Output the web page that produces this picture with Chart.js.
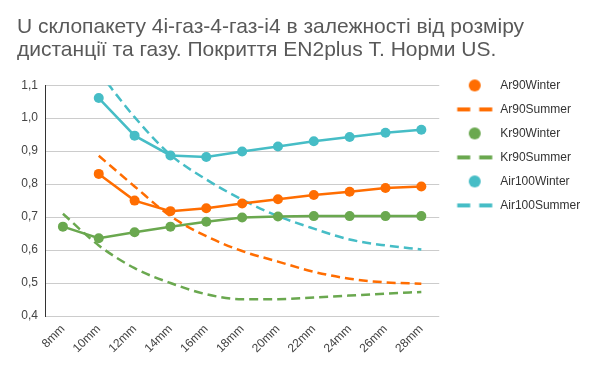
<!DOCTYPE html>
<html>
<head>
<meta charset="utf-8">
<script src="https://cdn.jsdelivr.net/npm/chart.js@4"></script>
<style>
  body { margin: 0; background: #fff; }
  #wrap { width: 600px; height: 371px; }
</style>
</head>
<body>
<div id="wrap"><canvas id="chart"></canvas></div>
<script>
// дані з графіка
var distances = ["8mm", "10mm", "12mm", "14mm", "16mm", "18mm", "20mm", "22mm", "24mm", "26mm", "28mm"];
var ar90Winter = [null, 0.831, 0.750, 0.718, 0.727, 0.741, 0.754, 0.767, 0.777, 0.788, 0.793];
var ar90Summer = [null, 0.886, 0.793, 0.703, 0.642, 0.597, 0.565, 0.534, 0.513, 0.502, 0.498];
var kr90Winter = [0.671, 0.636, 0.654, 0.671, 0.686, 0.699, 0.702, 0.703, 0.703, 0.703, 0.703];
var kr90Summer = [0.710, 0.614, 0.545, 0.500, 0.466, 0.451, 0.451, 0.456, 0.462, 0.468, 0.473];
var air100Winter = [null, 1.061, 0.947, 0.887, 0.882, 0.899, 0.914, 0.930, 0.943, 0.956, 0.965];
var air100Summer = [null, 1.140, 1.003, 0.889, 0.814, 0.753, 0.703, 0.665, 0.632, 0.614, 0.602];
var yTicks = [0.4, 0.5, 0.6, 0.7, 0.8, 0.9, 1.0, 1.1];

var orange = '#ff6d01';
var green = '#6aa84f';
var teal = '#46bdc6';
var fontFamily = 'Arial, "Liberation Sans", sans-serif';

// значки для легенди (кружок або пунктир)
function dotIcon(color) {
    var c = document.createElement('canvas');
    c.width = 44; c.height = 14;
    var g = c.getContext('2d');
    g.fillStyle = color;
    g.beginPath();
    g.arc(24, 7, 6, 0, Math.PI * 2);
    g.fill();
    return c;
}
function dashIcon(color) {
    var c = document.createElement('canvas');
    c.width = 44; c.height = 6;
    var g = c.getContext('2d');
    g.fillStyle = color;
    g.fillRect(6.5, 1, 13, 4);
    g.fillRect(28.5, 1, 13, 4);
    return c;
}

function winter(label, data, color) {
    return {
        label: label, data: data,
        borderColor: color, backgroundColor: color,
        borderWidth: 2.5, pointRadius: 5, pointHoverRadius: 5,
        pointBorderWidth: 0, spanGaps: true,
        legendIcon: dotIcon(color)
    };
}
function summer(label, data, color) {
    return {
        label: label, data: data,
        borderColor: color, backgroundColor: color,
        borderWidth: 2.5, borderDash: [9, 5], pointRadius: 0,
        cubicInterpolationMode: 'monotone', spanGaps: true,
        legendIcon: dashIcon(color)
    };
}

var ctx = document.getElementById("chart");
var myChart = new Chart(ctx, {
    type: 'line',
    data: {
        labels: distances,
        datasets: [
            winter('Ar90Winter', ar90Winter, orange),
            summer('Ar90Summer', ar90Summer, orange),
            winter('Kr90Winter', kr90Winter, green),
            summer('Kr90Summer', kr90Summer, green),
            winter('Air100Winter', air100Winter, teal),
            summer('Air100Summer', air100Summer, teal)
        ]
    },
    options: {
        responsive: true,
        maintainAspectRatio: false,
        animation: false,
        layout: { padding: { left: 17, right: 20, top: 0, bottom: 15 } },
        plugins: {
            title: {
                display: true,
                text: ["U склопакету 4i-газ-4-газ-i4 в залежності від розміру",
                       "дистанції та газу. Покриття EN2plus T. Норми US."],
                align: 'start',
                color: '#595959',
                font: { family: fontFamily, size: 21, weight: 'normal', lineHeight: 1.1 },
                padding: { top: 16, bottom: 23 }
            },
            legend: {
                position: 'right',
                align: 'start',
                title: { display: true, text: '', padding: { top: 53, bottom: 0 } },
                labels: {
                    usePointStyle: true,
                    pointStyleWidth: 43,
                    padding: 12,
                    color: '#333',
                    font: { family: fontFamily, size: 12 },
                    generateLabels: function (chart) {
                        return chart.data.datasets.map(function (ds, i) {
                            return {
                                text: ds.label,
                                pointStyle: ds.legendIcon,
                                fontColor: '#333',
                                datasetIndex: i,
                                lineWidth: 0
                            };
                        });
                    }
                }
            },
            tooltip: { enabled: false }
        },
        scales: {
            x: {
                offset: true,
                afterFit: function (scale) { scale.height = 40; },
                grid: { display: false },
                border: { display: false },
                ticks: {
                    padding: -2,
                    color: '#444',
                    font: { family: fontFamily, size: 12 },
                    minRotation: 45, maxRotation: 45
                }
            },
            y: {
                min: 0.4, max: 1.1,
                afterFit: function (scale) { scale.width = 28; },
                afterBuildTicks: function (scale) {
                    scale.ticks = yTicks.map(function (v) { return { value: v }; });
                },
                grid: { color: '#cccccc', drawTicks: false },
                border: { display: true, color: '#333', width: 1 },
                ticks: {
                    padding: 7,
                    color: '#444',
                    font: { family: fontFamily, size: 12 },
                    callback: function (v) { return v.toFixed(1).replace('.', ','); }
                }
            }
        }
    }
});
</script>
</body>
</html>
